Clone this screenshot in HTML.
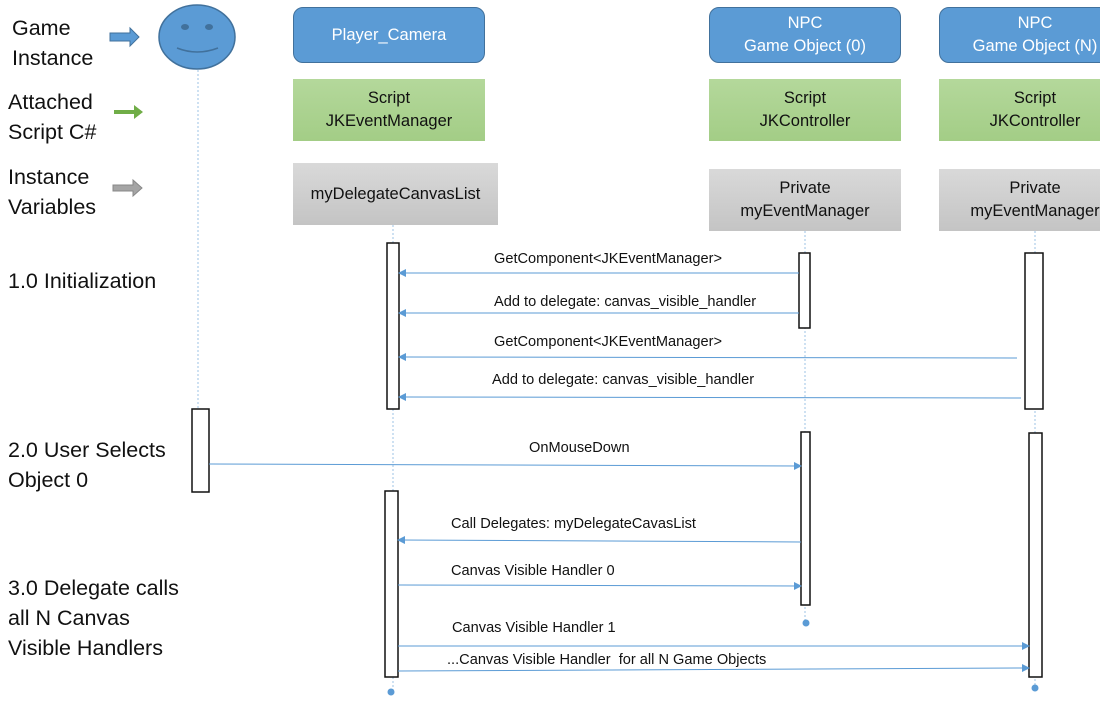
<!DOCTYPE html>
<html><head><style>
body{margin:0;width:1100px;height:704px;background:#fff;overflow:hidden;position:relative;font-family:"Liberation Sans",sans-serif}
.t{position:absolute;font-size:21.5px;color:#111;line-height:30px}
.b{position:absolute;box-sizing:border-box;display:flex;align-items:center;justify-content:center;text-align:center;font-size:16.5px;line-height:23px}
.blue{background:#5b9bd5;border:1.5px solid #41719c;border-radius:10px;color:#fff}
.green{background:linear-gradient(#b4d89b,#a3cd86);color:#111}
.gray{background:linear-gradient(#d9d9d9,#c4c4c4);color:#111}
.l{position:absolute;font-size:14.6px;color:#111}
</style></head><body>
<div class="t" style="left:12px;top:13px">Game<br>Instance</div>
<div class="t" style="left:8px;top:87px">Attached<br>Script C#</div>
<div class="t" style="left:8px;top:162px">Instance<br>Variables</div>
<div class="t" style="left:8px;top:266px">1.0 Initialization</div>
<div class="t" style="left:8px;top:435px">2.0 User Selects<br>Object 0</div>
<div class="t" style="left:8px;top:573px">3.0 Delegate calls<br>all N Canvas<br>Visible Handlers</div>

<div class="b blue" style="left:293px;top:7px;width:192px;height:56px">Player_Camera</div>
<div class="b green" style="left:293px;top:79px;width:192px;height:62px">Script<br>JKEventManager</div>
<div class="b gray" style="left:293px;top:163px;width:205px;height:62px">myDelegateCanvasList</div>
<div class="b blue" style="left:709px;top:7px;width:192px;height:56px">NPC<br>Game Object (0)</div>
<div class="b green" style="left:709px;top:79px;width:192px;height:62px">Script<br>JKController</div>
<div class="b gray" style="left:709px;top:169px;width:192px;height:62px">Private<br>myEventManager</div>
<div class="b blue" style="left:939px;top:7px;width:192px;height:56px">NPC<br>Game Object (N)</div>
<div class="b green" style="left:939px;top:79px;width:192px;height:62px">Script<br>JKController</div>
<div class="b gray" style="left:939px;top:169px;width:192px;height:62px">Private<br>myEventManager</div>

<svg width="1100" height="704" style="position:absolute;left:0;top:0">
<defs><marker id="a" markerWidth="8" markerHeight="8" refX="7" refY="4" orient="auto" markerUnits="userSpaceOnUse"><path d="M0,0L8,4L0,8z" fill="#5b9bd5"/></marker></defs>
<path d="M110,33h20v-5l9,9-9,9v-5h-20z" fill="#5b9bd5" stroke="#41719c"/>
<path d="M114,110h20v-5l9,7-9,7v-5h-20z" fill="#70ad47"/>
<path d="M113,185h20v-5l9,8-9,8v-5h-20z" fill="#a5a5a5" stroke="#888"/>
<ellipse cx="197" cy="37" rx="38" ry="32" fill="#5b9bd5" stroke="#41719c" stroke-width="1.5"/>
<ellipse cx="185" cy="27" rx="4" ry="3" fill="#41719c"/><ellipse cx="209" cy="27" rx="4" ry="3" fill="#41719c"/>
<path d="M177,48q20,8 41,0" fill="none" stroke="#41719c" stroke-width="1.5"/>
<g stroke="#9dc3e6" stroke-dasharray="2,2" stroke-width="1">
<line x1="198" y1="70" x2="198" y2="410"/><line x1="393" y1="225" x2="393" y2="690"/>
<line x1="805" y1="231" x2="805" y2="620"/><line x1="1035" y1="231" x2="1035" y2="686"/></g>
<g fill="#fff" stroke="#111" stroke-width="1.5">
<rect x="192" y="409" width="17" height="83"/>
<rect x="387" y="243" width="12" height="166"/><rect x="385" y="491" width="13" height="186"/>
<rect x="799" y="253" width="11" height="75"/><rect x="801" y="432" width="9" height="173"/>
<rect x="1025" y="253" width="18" height="156"/><rect x="1029" y="433" width="13" height="244"/></g>
<g fill="#5b9bd5"><circle cx="391" cy="692" r="3.5"/><circle cx="806" cy="623" r="3.5"/><circle cx="1035" cy="688" r="3.5"/></g>
<g stroke="#5b9bd5" stroke-width="1" marker-end="url(#a)">
<line x1="799" y1="273" x2="399" y2="273"/><line x1="799" y1="313" x2="399" y2="313"/>
<line x1="1017" y1="358" x2="399" y2="357"/><line x1="1021" y1="398" x2="399" y2="397"/>
<line x1="209" y1="464" x2="801" y2="466"/><line x1="801" y1="542" x2="398" y2="540"/>
<line x1="398" y1="585" x2="801" y2="586"/><line x1="398" y1="646" x2="1029" y2="646"/>
<line x1="398" y1="671" x2="1029" y2="668"/></g>
</svg>
<div class="l" style="left:494px;top:251px">GetComponent&lt;JKEventManager&gt;</div>
<div class="l" style="left:494px;top:294px">Add to delegate: canvas_visible_handler</div>
<div class="l" style="left:494px;top:334px">GetComponent&lt;JKEventManager&gt;</div>
<div class="l" style="left:492px;top:372px">Add to delegate: canvas_visible_handler</div>
<div class="l" style="left:529px;top:440px">OnMouseDown</div>
<div class="l" style="left:451px;top:516px">Call Delegates: myDelegateCavasList</div>
<div class="l" style="left:451px;top:563px">Canvas Visible Handler 0</div>
<div class="l" style="left:452px;top:620px">Canvas Visible Handler 1</div>
<div class="l" style="left:447px;top:652px">...Canvas Visible Handler &nbsp;for all N Game Objects</div>
</body></html>
